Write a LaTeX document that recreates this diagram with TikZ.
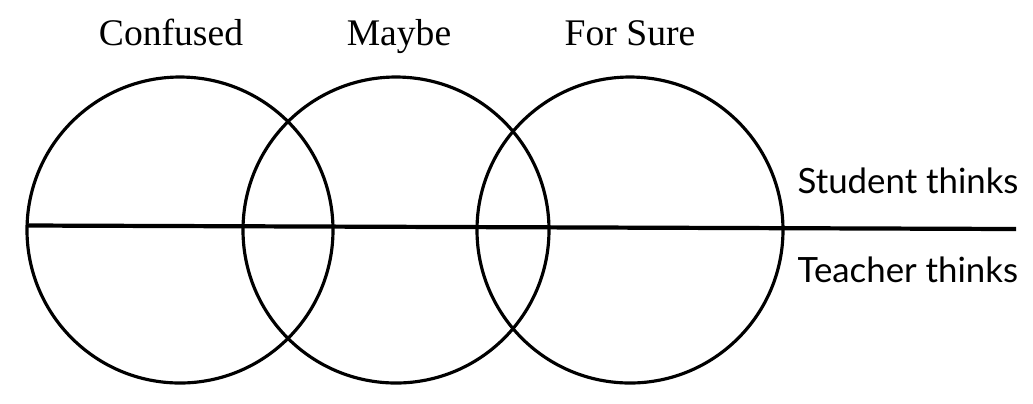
\documentclass[tikz,border=0pt]{standalone}
\usepackage{fontspec}
\setmainfont{Liberation Serif}
\newfontfamily\thinkfont{Lato}
\usepackage{tikz}

\begin{document}
\begin{tikzpicture}
			\useasboundingbox (0,0) rectangle (10.33,-4.03);
            \draw[line width=0.9pt](1.80,-2.30)circle(1.53cm);
            \node[anchor=base, font=\fontsize{10.7pt}{12pt}\selectfont] (confused) at (1.71,-0.45) {Confused};
            \draw[line width=0.9pt](3.96,-2.30)circle(1.53cm);
            \node[anchor=base, font=\fontsize{10.7pt}{12pt}\selectfont] (maybe) at (3.99,-0.45) {Maybe};
            \draw[line width=0.9pt](6.30,-2.30)circle(1.53cm);
            \node[anchor=base, font=\fontsize{10.7pt}{12pt}\selectfont] (forsure) at (6.30,-0.45) {For Sure};
            \coordinate (lineleft) at (0.27,-2.255);
            \coordinate (lineright) at (10.16,-2.29);
            \draw[line width=1.2pt] (lineleft) -- (lineright);
            \node[anchor=base west, inner sep=0pt, font=\thinkfont\fontsize{9.9pt}{12pt}\selectfont] (student) at (7.97,-1.93) {Student thinks};
            \node[anchor=base west, inner sep=0pt, font=\thinkfont\fontsize{9.9pt}{12pt}\selectfont] (teacher) at (7.97,-2.82) {Teacher thinks};
		\end{tikzpicture}
\end{document}
